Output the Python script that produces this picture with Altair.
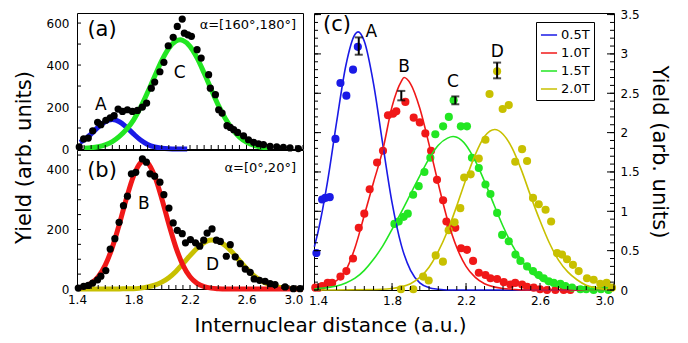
import altair as alt
import pandas as pd

FONT = "DejaVu Sans"
BLUE, RED, GREEN, OLIVE = "#1a1ae6", "#f01818", "#22e622", "#c8c000"

# ---------------- panel (a): alpha = [160°,180°] ----------------
a_x = [1.416, 1.447, 1.480, 1.511, 1.546, 1.569, 1.604, 1.635, 1.663, 1.691, 1.722, 1.757,
       1.792, 1.828, 1.863, 1.893, 1.926, 1.950, 1.987, 2.015, 2.046, 2.081, 2.110, 2.145,
       2.160, 2.185, 2.210, 2.250, 2.279, 2.332, 2.344, 2.380, 2.403, 2.427, 2.462, 2.485,
       2.509, 2.537, 2.579, 2.614, 2.650, 2.685, 2.720, 2.767, 2.814, 2.861, 2.908, 2.967]
a_y = [10, 48, 52, 87, 127, 116, 137, 148, 159, 190, 179, 187,
       179, 184, 200, 219, 290, 319, 368, 413, 492, 532, 584, 619,
       552, 544, 537, 473, 433, 354, 290, 259, 187, 171, 111, 103,
       92, 79, 63, 44, 32, 25, 21, 13, 10, 8, 5, 2]
a_fitA_x = [1.42, 1.45, 1.50, 1.55, 1.60, 1.65, 1.70, 1.75, 1.80, 1.85, 1.90, 1.95, 2.00, 2.05, 2.10, 2.18]
a_fitA_y = [32, 43, 72, 104, 130, 140, 130, 104, 72, 43, 22, 10, 4, 1, 0, 0]
a_fitC_x = [1.45, 1.50, 1.55, 1.60, 1.65, 1.70, 1.75, 1.80, 1.85, 1.90, 1.95, 2.00, 2.05, 2.10,
            2.13, 2.15, 2.20, 2.25, 2.30, 2.35, 2.40, 2.45, 2.50, 2.55, 2.60, 2.65, 2.70, 2.75]
a_fitC_y = [3, 6, 11, 20, 35, 60, 93, 138, 198, 270, 347, 421, 480, 514,
            520, 517, 489, 434, 362, 284, 209, 145, 94, 57, 33, 18, 9, 4]
a_lab_t = ["A", "C"]
a_lab_x = [1.569, 2.127]
a_lab_y = [211, 362]

# ---------------- panel (b): alpha = [0°,20°] ----------------
b_x = [1.409, 1.447, 1.480, 1.511, 1.546, 1.569, 1.604, 1.635, 1.668, 1.698, 1.729, 1.757,
       1.785, 1.816, 1.863, 1.891, 1.917, 1.950, 1.987, 2.015, 2.051, 2.081, 2.110, 2.145,
       2.168, 2.203, 2.239, 2.269, 2.297, 2.321, 2.356, 2.387, 2.415, 2.457, 2.485, 2.520,
       2.556, 2.591, 2.626, 2.654, 2.692, 2.732, 2.767, 2.802, 2.873, 2.932, 2.979]
b_y = [3, 9, 12, 20, 31, 43, 62, 134, 169, 224, 280, 312,
       387, 392, 437, 426, 387, 379, 359, 317, 272, 222, 197, 186,
       155, 166, 155, 144, 164, 188, 202, 164, 160, 110, 149, 108,
       85, 67, 56, 34, 29, 26, 18, 15, 7, 1, 1]
b_fitB_x = [1.40, 1.45, 1.50, 1.55, 1.60, 1.65, 1.70, 1.75, 1.80, 1.85, 1.875, 1.90,
            1.95, 2.00, 2.05, 2.10, 2.15, 2.20, 2.25, 2.30, 2.35, 2.40, 2.45, 3.00]
b_fitB_y = [3, 8, 19, 41, 80, 140, 218, 304, 379, 424, 430, 424,
            379, 304, 218, 140, 80, 41, 19, 8, 3, 1, 0, 0]
b_fitD_x = [1.42, 1.70, 1.75, 1.80, 1.85, 1.90, 1.95, 2.00, 2.05, 2.10, 2.15, 2.20, 2.25, 2.30,
            2.35, 2.40, 2.45, 2.50, 2.55, 2.60, 2.65, 2.70, 2.75, 2.80, 2.85, 2.90, 2.95, 3.00]
b_fitD_y = [0, 0, 1, 1, 3, 7, 13, 23, 38, 59, 85, 112, 137, 156,
            165, 161, 146, 123, 95, 69, 46, 29, 17, 9, 4, 2, 1, 0]
b_lab_t = ["B", "D"]
b_lab_x = [1.874, 2.36]
b_lab_y = [286, 82]

# ---------------- panel (c): four magnetic fields ----------------
fields = ["0.5T", "1.0T", "1.5T", "2.0T"]
c05_x = [1.391, 1.422, 1.439, 1.463, 1.494, 1.521, 1.553, 1.589, 1.615]
c05_y = [0.47, 1.15, 1.17, 1.18, 1.92, 2.63, 2.47, 2.80, 3.09]
c10_x = [1.385, 1.405, 1.422, 1.452, 1.476, 1.521, 1.553, 1.589, 1.620, 1.650, 1.679, 1.719,
         1.751, 1.778, 1.805, 1.823, 1.872, 1.917, 1.950, 1.980, 2.011, 2.043, 2.076, 2.094,
         2.115, 2.142, 2.173, 2.205, 2.238, 2.269, 2.305, 2.332, 2.368, 2.404, 2.440, 2.466,
         2.503, 2.530, 2.566, 2.600, 2.638, 2.683, 2.728, 2.764]
c10_y = [0.03, 0.03, 0.05, 0.09, 0.09, 0.17, 0.24, 0.40, 0.79, 0.97, 1.28, 1.62,
         1.77, 2.22, 2.24, 2.27, 2.39, 2.19, 2.13, 1.99, 1.77, 1.40, 1.14, 0.87,
         0.80, 0.79, 0.53, 0.51, 0.37, 0.22, 0.19, 0.15, 0.14, 0.10, 0.07, 0.09,
         0.07, 0.04, 0.03, 0.01, 0.00, 0.00, 0.00, 0.00]
c15_x = [1.813, 1.836, 1.863, 1.885, 1.914, 1.944, 1.975, 2.007, 2.034, 2.076, 2.107, 2.133,
         2.172, 2.205, 2.232, 2.269, 2.305, 2.332, 2.368, 2.395, 2.431, 2.467, 2.494, 2.530,
         2.562, 2.593, 2.620, 2.647, 2.674, 2.710, 2.737, 2.773, 2.818, 2.850, 2.890, 2.930, 2.970]
c15_y = [0.84, 0.87, 0.93, 0.97, 1.21, 1.32, 1.50, 1.68, 1.98, 2.08, 2.20, 2.41,
         2.08, 2.08, 1.68, 1.55, 1.34, 1.22, 0.98, 0.70, 0.62, 0.45, 0.37, 0.30,
         0.24, 0.19, 0.15, 0.11, 0.09, 0.08, 0.05, 0.03, 0.01, 0.01, 0.0, 0.01, 0.0]
c20_x = [1.848, 1.915, 1.968, 1.998, 2.036, 2.075, 2.106, 2.138, 2.169, 2.190, 2.225, 2.269,
         2.305, 2.327, 2.368, 2.398, 2.431, 2.466, 2.503, 2.530, 2.562, 2.593, 2.630, 2.660,
         2.692, 2.719, 2.746, 2.778, 2.809, 2.854, 2.890, 2.926, 2.960, 2.989]
c20_y = [0.01, 0.01, 0.17, 0.12, 0.44, 0.36, 0.76, 0.86, 1.04, 1.43, 1.47, 1.67,
         1.91, 2.49, 2.78, 2.30, 2.35, 1.63, 1.79, 1.64, 1.17, 1.09, 1.02, 0.87,
         0.47, 0.45, 0.39, 0.32, 0.24, 0.15, 0.13, 0.08, 0.09, 0.03]
# fitted curves
f05_x = [1.38, 1.40, 1.45, 1.50, 1.55, 1.60, 1.616, 1.65, 1.70, 1.75, 1.80, 1.85, 1.90, 1.95,
         2.00, 2.05, 2.10, 3.00]
f05_y = [0.55, 0.74, 1.36, 2.13, 2.85, 3.25, 3.28, 3.16, 2.62, 1.85, 1.11, 0.57, 0.25, 0.09,
         0.03, 0.01, 0.0, 0.0]
f10_x = [1.38, 1.45, 1.50, 1.55, 1.60, 1.65, 1.70, 1.75, 1.80, 1.85, 1.865, 1.90, 1.95, 2.00,
         2.05, 2.10, 2.15, 2.20, 2.25, 2.30, 2.35, 2.40, 2.45, 2.50, 3.00]
f10_y = [0.03, 0.07, 0.12, 0.25, 0.54, 0.95, 1.37, 1.78, 2.33, 2.65, 2.70, 2.62, 2.31, 1.85,
         1.35, 0.89, 0.54, 0.30, 0.16, 0.08, 0.04, 0.02, 0.01, 0.0, 0.0]
f15_x = [1.38, 1.40, 1.45, 1.50, 1.55, 1.60, 1.65, 1.70, 1.75, 1.80, 1.85, 1.90, 1.95, 2.00,
         2.05, 2.10, 2.13, 2.15, 2.20, 2.25, 2.30, 2.35, 2.40, 2.45, 2.50, 2.55, 2.60, 2.65,
         2.70, 2.75, 2.80, 2.85, 3.00]
f15_y = [0.01, 0.02, 0.03, 0.05, 0.09, 0.15, 0.25, 0.39, 0.56, 0.77, 0.99, 1.22, 1.45, 1.67,
         1.84, 1.93, 1.95, 1.94, 1.84, 1.64, 1.38, 1.09, 0.81, 0.57, 0.38, 0.23, 0.14, 0.08,
         0.04, 0.02, 0.01, 0.0, 0.0]
f20_x = [1.38, 1.75, 1.80, 1.85, 1.90, 1.95, 2.00, 2.05, 2.10, 2.15, 2.20, 2.25, 2.30, 2.355,
         2.40, 2.45, 2.50, 2.55, 2.60, 2.65, 2.70, 2.75, 2.80, 2.85, 2.90, 2.95, 3.00]
f20_y = [0.0, 0.01, 0.02, 0.04, 0.08, 0.16, 0.29, 0.49, 0.75, 1.07, 1.41, 1.72, 1.95, 2.04,
         1.98, 1.80, 1.52, 1.19, 0.88, 0.60, 0.38, 0.23, 0.13, 0.06, 0.03, 0.01, 0.01]
err_x = [1.62, 1.85, 2.142, 2.368]
err_lo = [2.99, 2.41, 2.36, 2.69]
err_hi = [3.21, 2.53, 2.46, 2.89]
c_lab_t = ["A", "B", "C", "D"]
c_lab_x = [1.688, 1.865, 2.129, 2.369]
c_lab_y = [3.28, 2.84, 2.64, 3.02]

# tick labels / tick positions
ab_x_labels = [1.4, 1.8, 2.2, 2.6, 3.0]
a_y_labels = [0, 200, 400, 600]
a_y_minor = [0, 100, 200, 300, 400, 500, 600]
b_y_labels = [0, 200, 400]
b_y_minor = [0, 50, 100, 150, 200, 250, 300, 350, 400, 450]
x_minor = [round(1.4 + 0.05 * i, 2) for i in range(33)]
c_y_labels = [0, 0.5, 1, 1.5, 2, 2.5, 3, 3.5]
c_y_minor = [round(0.1 * i, 1) for i in range(36)]

WA, HA, HB = 226, 136, 139
WC, HC = 300, 277
GAP = 5

xa = alt.Scale(domain=[1.4, 3.0], nice=False, zero=False)
ya = alt.Scale(domain=[0, 648], nice=False, zero=False)
yb = alt.Scale(domain=[0, 467], nice=False, zero=False)
xc = alt.Scale(domain=[1.378, 3.0], nice=False, zero=False)
yc = alt.Scale(domain=[0, 3.52], nice=False, zero=False)

lab = dict(labelFont=FONT, labelFontSize=12, labelColor="black", ticks=False, tickSize=0,
           domain=False, grid=False)
ttl = dict(titleFont=FONT, titleFontWeight="normal", titleColor="black")

ax_a_y = alt.Axis(values=a_y_labels, title=None, labelPadding=8, **lab)
ax_b_y = alt.Axis(values=b_y_labels, title="Yield (arb. units)", titleY=7, titleFontSize=21,
                  titlePadding=12, labelPadding=8, **ttl, **lab)
ax_b_x = alt.Axis(values=ab_x_labels, format=".1f", title=None, labelPadding=5,
                  labelAlign={"condition": {"test": "datum.value > 2.99", "value": "right"},
                              "value": "center"}, **lab)
ax_c_x = alt.Axis(values=ab_x_labels, format=".1f", title=None, labelPadding=5, **lab)
ax_c_y = alt.Axis(orient="right", values=c_y_labels, format="~g", title="Yield (arb. units)",
                  titleFontSize=21, titlePadding=9, labelPadding=6, **ttl, **lab)


def rule_x(vals, length, scale, axis, H):
    return alt.Chart(pd.DataFrame({"v": vals})).mark_rule(color="black", strokeWidth=1).encode(
        x=alt.X("v:Q", scale=scale, axis=axis), y=alt.value(H), y2=alt.value(H - length))


def rule_y(vals, length, scale, axis, X0, sign):
    return alt.Chart(pd.DataFrame({"v": vals})).mark_rule(color="black", strokeWidth=1).encode(
        y=alt.Y("v:Q", scale=scale, axis=axis), x=alt.value(X0), x2=alt.value(X0 + sign * length))


def tag(txt, x, y, size, align="center"):
    return alt.Chart(pd.DataFrame({"t": [txt]})).mark_text(
        font=FONT, fontSize=size, align=align, baseline="middle", color="black").encode(
        x=alt.value(x), y=alt.value(y), text="t:N")


def thick(xs, ys, color, xs_scale, xaxis, ysc, yaxis):
    return alt.Chart(pd.DataFrame({"x": xs, "y": ys})).mark_line(
        color=color, strokeWidth=5, interpolate="monotone").encode(
        x=alt.X("x:Q", scale=xs_scale, axis=xaxis), y=alt.Y("y:Q", scale=ysc, axis=yaxis))


def dots(xs, ys, xs_scale, xaxis, ysc, yaxis):
    return alt.Chart(pd.DataFrame({"x": xs, "y": ys})).mark_circle(
        color="black", size=52, opacity=1).encode(
        x=alt.X("x:Q", scale=xs_scale, axis=xaxis), y=alt.Y("y:Q", scale=ysc, axis=yaxis))


def letters(ts, xs, ys, xs_scale, xaxis, ysc, yaxis, size=17):
    return alt.Chart(pd.DataFrame({"t": ts, "x": xs, "y": ys})).mark_text(
        font=FONT, fontSize=size, color="black").encode(
        x=alt.X("x:Q", scale=xs_scale, axis=xaxis), y=alt.Y("y:Q", scale=ysc, axis=yaxis),
        text="t:N")


# ---- panel (a)
pa = alt.layer(
    thick(a_fitA_x, a_fitA_y, BLUE, xa, None, ya, ax_a_y),
    thick(a_fitC_x, a_fitC_y, GREEN, xa, None, ya, ax_a_y),
    dots(a_x, a_y, xa, None, ya, ax_a_y),
    letters(a_lab_t, a_lab_x, a_lab_y, xa, None, ya, ax_a_y),
    rule_y(a_y_minor, 4, ya, ax_a_y, 0, 1),
    rule_x(x_minor, 4, xa, None, HA),
    tag("(a)", 25, 17, 21),
    tag("α=[160°,180°]", WA - 7, 12, 13, "right"),
).properties(width=WA, height=HA)

# ---- panel (b)
pb = alt.layer(
    thick(b_fitD_x, b_fitD_y, OLIVE, xa, ax_b_x, yb, ax_b_y),
    thick(b_fitB_x, b_fitB_y, RED, xa, ax_b_x, yb, ax_b_y),
    dots(b_x, b_y, xa, ax_b_x, yb, ax_b_y),
    letters(b_lab_t, b_lab_x, b_lab_y, xa, ax_b_x, yb, ax_b_y),
    rule_y(b_y_minor, 4, yb, ax_b_y, 0, 1),
    rule_x(x_minor, 4, xa, ax_b_x, HB),
    tag("(b)", 25, 21, 21),
    tag("α=[0°,20°]", WA - 7, 18, 13, "right"),
).properties(width=WA, height=HB)

# ---- panel (c)
fit_df = pd.concat([
    pd.DataFrame({"x": f05_x, "y": f05_y, "B": fields[0]}),
    pd.DataFrame({"x": f10_x, "y": f10_y, "B": fields[1]}),
    pd.DataFrame({"x": f15_x, "y": f15_y, "B": fields[2]}),
    pd.DataFrame({"x": f20_x, "y": f20_y, "B": fields[3]}),
])
pts_df = pd.concat([
    pd.DataFrame({"x": c05_x, "y": c05_y, "c": BLUE}),
    pd.DataFrame({"x": c10_x, "y": c10_y, "c": RED}),
    pd.DataFrame({"x": c15_x, "y": c15_y, "c": GREEN}),
    pd.DataFrame({"x": c20_x, "y": c20_y, "c": OLIVE}),
])
err_df = pd.DataFrame({"x": err_x, "lo": err_lo, "hi": err_hi})

Xc = alt.X("x:Q", scale=xc, axis=ax_c_x)
c_points = alt.Chart(pts_df).mark_circle(size=66, opacity=1).encode(
    x=Xc, y=alt.Y("y:Q", scale=yc, axis=ax_c_y), color=alt.Color("c:N", scale=None))
c_lines = alt.Chart(fit_df).mark_line(strokeWidth=1.6, interpolate="monotone").encode(
    x=Xc, y=alt.Y("y:Q", scale=yc, axis=ax_c_y),
    color=alt.Color("B:N", scale=alt.Scale(domain=fields, range=[BLUE, RED, GREEN, OLIVE]),
                    legend=alt.Legend(title=None, orient="none", legendX=WA + GAP + 228, legendY=9,
                                      symbolType="stroke", symbolSize=260, symbolStrokeWidth=1.5,
                                      labelFont=FONT, labelFontSize=13, labelColor="black",
                                      strokeColor="black", fillColor="white", padding=4,
                                      rowPadding=2, labelOffset=3)))
c_err = alt.Chart(err_df).mark_rule(color="black", strokeWidth=2).encode(
    x=Xc, y=alt.Y("lo:Q", scale=yc, axis=ax_c_y), y2="hi:Q")
c_cap_lo = alt.Chart(err_df).mark_tick(color="black", orient="horizontal", size=8, thickness=2).encode(
    x=Xc, y=alt.Y("lo:Q", scale=yc, axis=ax_c_y))
c_cap_hi = alt.Chart(err_df).mark_tick(color="black", orient="horizontal", size=8, thickness=2).encode(
    x=Xc, y=alt.Y("hi:Q", scale=yc, axis=ax_c_y))

pc = alt.layer(
    c_points, c_lines, c_err, c_cap_lo, c_cap_hi,
    letters(c_lab_t, c_lab_x, c_lab_y, xc, ax_c_x, yc, ax_c_y),
    rule_y(c_y_minor, 4, yc, ax_c_y, 0, 1),
    rule_y(c_y_labels, 7, yc, ax_c_y, 0, 1),
    rule_y(c_y_minor, 4, yc, ax_c_y, WC, -1),
    rule_y(c_y_labels, 7, yc, ax_c_y, WC, -1),
    rule_x(x_minor, 4, xc, ax_c_x, HC),
    rule_x(ab_x_labels, 7, xc, ax_c_x, HC),
    tag("(c)", 23, 12, 21),
).properties(width=WC, height=HC)

left = alt.vconcat(pa, pb, spacing=1, bounds="flush")
chart = alt.hconcat(left, pc, spacing=-14).properties(
    padding={"left": 4, "top": 0, "right": 4, "bottom": 2},
    title=alt.TitleParams("Internuclear distance (a.u.)", orient="bottom", anchor="start",
                          frame="bounds", dx=182, offset=9, font=FONT, fontSize=20,
                          fontWeight="normal", color="black"),
).configure(font=FONT).configure_view(stroke="black", strokeWidth=1)

chart.save("out.html", embed_options={"renderer": "svg", "actions": False})
